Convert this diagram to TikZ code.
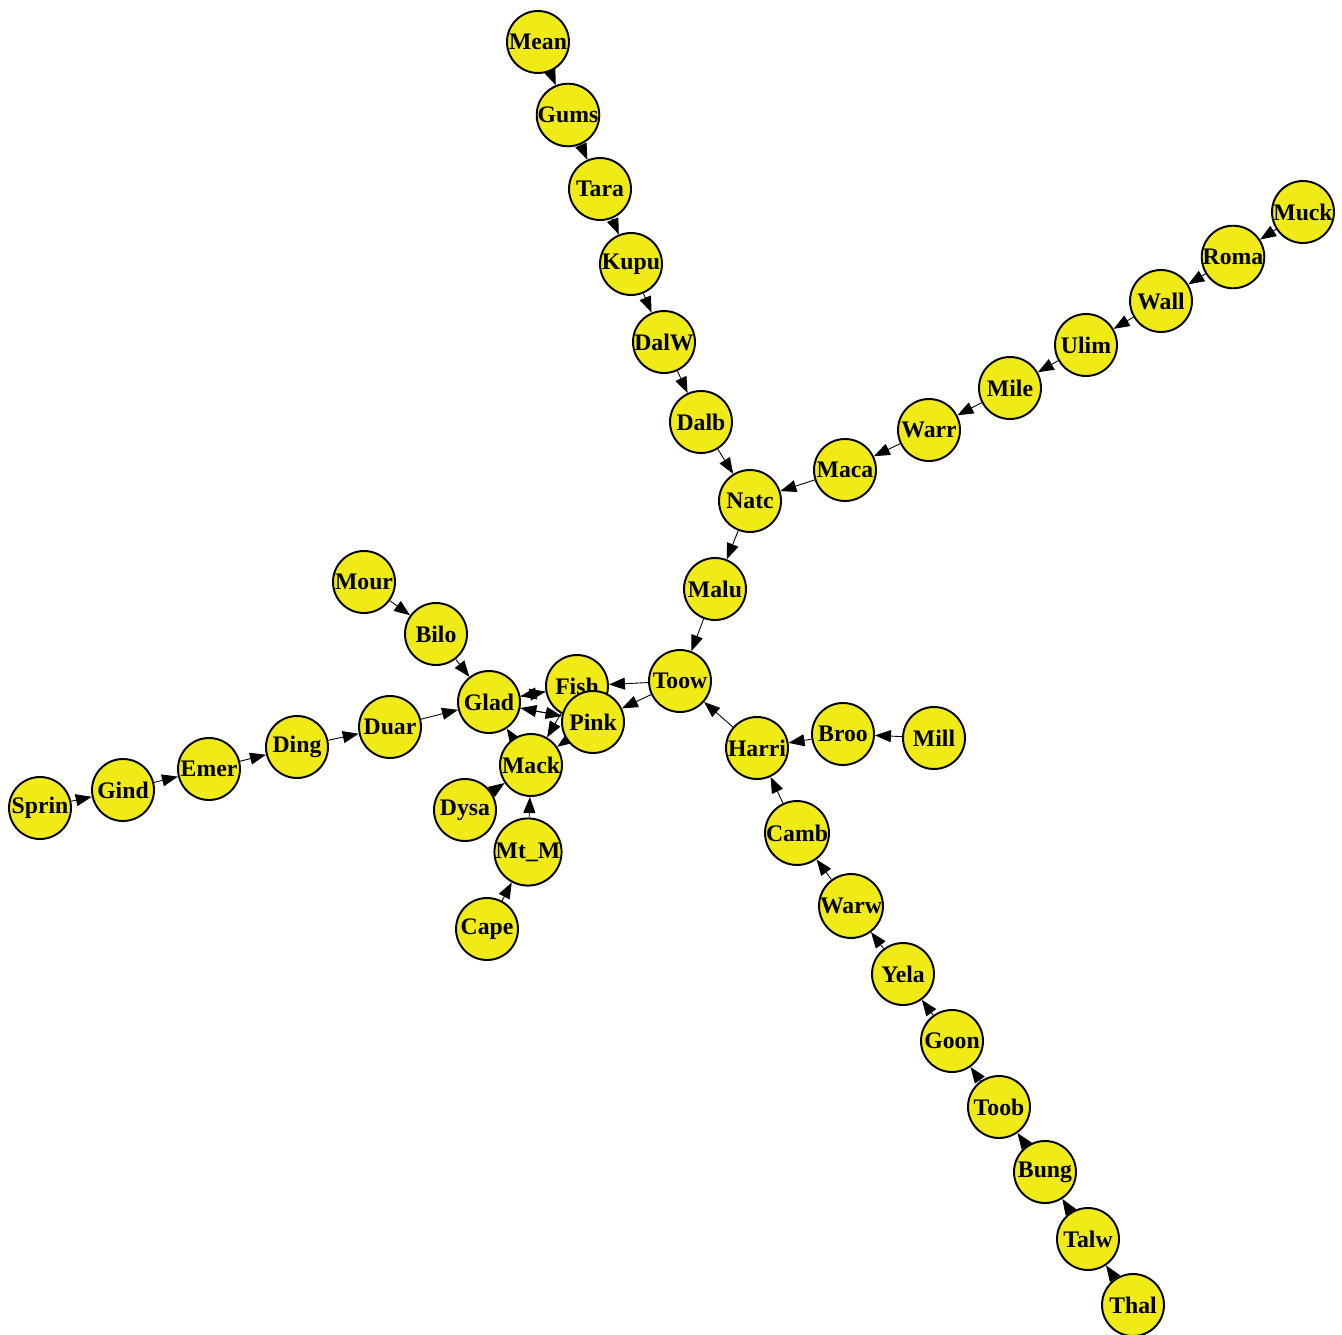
\documentclass[tikz,border=0pt]{standalone}
\usepackage{fontspec}
\setmainfont{Liberation Serif}
\usetikzlibrary{arrows.meta, backgrounds}
\definecolor{stopyellow}{HTML}{F0EA16}

\tikzset{
  station/.style={circle, draw=black, line width=1.1pt, fill=stopyellow,
    minimum size=1.24cm, inner sep=0pt, font=\bfseries\fontsize{13.5}{14}\selectfont},
  link/.style={draw=black, line width=0.5pt, -{Triangle[length=0.32cm, width=0.24cm]}}
}

\begin{document}
\begin{tikzpicture}[x=0.02cm, y=-0.02cm]
  \useasboundingbox (0,0) rectangle (1342,1335);

  % northern branch
  \node[station] (mean) at (538,42) {Mean};
  \node[station] (gums) at (568,115) {Gums};
  \node[station] (tara) at (600,189) {Tara};
  \node[station] (kupu) at (631,264) {Kupu};
  \node[station] (dalw) at (664,342) {DalW};
  \node[station] (dalb) at (701,422) {Dalb};
  \node[station] (natc) at (750,501) {Natc};
  \node[station] (malu) at (715,589) {Malu};
  \node[station] (toow) at (680,681) {Toow};

  % north-east branch
  \node[station] (muck) at (1303,212) {Muck};
  \node[station] (roma) at (1233,257) {Roma};
  \node[station] (wall) at (1161,301) {Wall};
  \node[station] (ulim) at (1086,345) {Ulim};
  \node[station] (mile) at (1010,388) {Mile};
  \node[station] (warr) at (929,430) {Warr};
  \node[station] (maca) at (845,470) {Maca};

  % centre
  \node[station] (glad) at (489,702) {Glad};
  \node[station] (fish) at (577,686) {Fish};
  \node[station] (pink) at (593,722) {Pink};
  \node[station] (mack) at (531,765) {Mack};
  \node[station] (dysa) at (465,810) {Dysa};
  \node[station] (mtm)  at (528,852) {Mt\_M};
  \node[station] (cape) at (487,929) {Cape};
  \node[station] (mour) at (364,582) {Mour};
  \node[station] (bilo) at (436,634) {Bilo};

  % western branch
  \node[station] (sprin) at (40,808) {Sprin};
  \node[station] (gind)  at (123,790) {Gind};
  \node[station] (emer)  at (209,769) {Emer};
  \node[station] (ding)  at (297,747) {Ding};
  \node[station] (duar)  at (390,727) {Duar};

  % south-east branch
  \node[station] (harri) at (757,748) {Harri};
  \node[station] (broo)  at (843,734) {Broo};
  \node[station] (mill)  at (934,738) {Mill};
  \node[station] (camb)  at (797,833) {Camb};
  \node[station] (warw)  at (851,906) {Warw};
  \node[station] (yela)  at (903,974) {Yela};
  \node[station] (goon)  at (952,1041) {Goon};
  \node[station] (toob)  at (999,1107) {Toob};
  \node[station] (bung)  at (1045,1172) {Bung};
  \node[station] (talw)  at (1088,1239) {Talw};
  \node[station] (thal)  at (1133,1305) {Thal};

  \begin{scope}[on background layer]
    \foreach \from/\to in {mean/gums, gums/tara, tara/kupu, kupu/dalw, dalw/dalb,
        dalb/natc, natc/malu, malu/toow,
        muck/roma, roma/wall, wall/ulim, ulim/mile, mile/warr, warr/maca, maca/natc,
        toow/fish, toow/pink, fish/glad, glad/fish, pink/glad, glad/pink,
        fish/mack, pink/mack, mack/glad, dysa/mack, mtm/mack, cape/mtm,
        mour/bilo, bilo/glad,
        sprin/gind, gind/emer, emer/ding, ding/duar, duar/glad,
        mill/broo, broo/harri, harri/toow,
        thal/talw, talw/bung, bung/toob, toob/goon, goon/yela, yela/warw,
        warw/camb, camb/harri}
      \draw[link] (\from) -- (\to);
  \end{scope}
\end{tikzpicture}
\end{document}
